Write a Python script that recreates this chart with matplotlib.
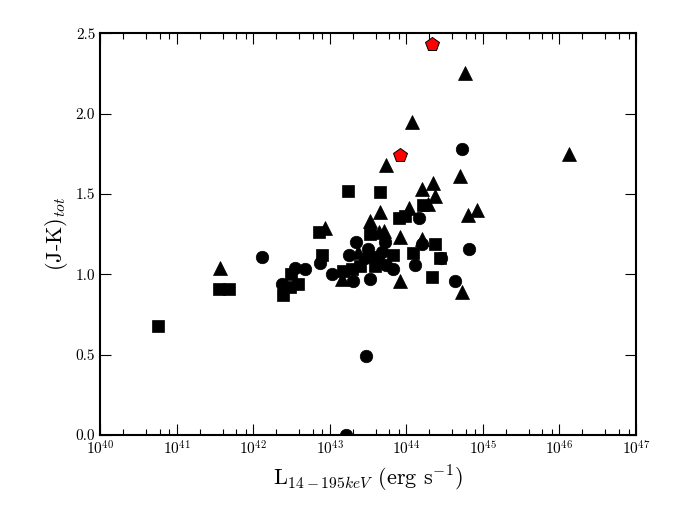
import numpy as np
import matplotlib
matplotlib.use("Agg")
import matplotlib.pyplot as plt
from matplotlib.ticker import LogLocator, MultipleLocator, NullFormatter

plt.rcParams['font.family'] = 'serif'
plt.rcParams['font.serif'] = ['cmr10', 'DejaVu Serif']
plt.rcParams['mathtext.fontset'] = 'cm'
plt.rcParams['axes.formatter.use_mathtext'] = True

# log10 of L(14-195 keV) and (J-K)tot
sq_logL = [40.76, 41.55, 41.68, 42.39, 42.50, 42.59, 42.48, 42.86, 42.90, 43.18,
           43.24, 43.29, 43.40, 43.52, 43.59, 43.63, 43.66, 43.83, 43.90, 43.98,
           44.09, 44.22, 44.33, 44.38, 44.44]
sq_jk = [0.68, 0.91, 0.91, 0.87, 1.00, 0.94, 0.92, 1.26, 1.12, 1.02,
         1.52, 1.03, 1.05, 1.25, 1.05, 1.08, 1.51, 1.12, 1.35, 1.36,
         1.13, 1.43, 0.98, 1.19, 1.10]

circ_logL = [42.12, 42.38, 42.55, 42.68, 42.87, 43.03, 43.25, 43.30, 43.35, 43.48,
             43.21, 43.53, 43.50, 43.46, 43.59, 43.68, 43.72, 43.74, 43.83, 44.16,
             44.20, 44.11, 44.46, 44.64, 44.73, 44.82]
circ_jk = [1.11, 0.94, 1.04, 1.03, 1.07, 1.00, 1.12, 0.96, 1.20, 0.49,
           0.00, 0.97, 1.16, 1.10, 1.11, 1.14, 1.20, 1.06, 1.03, 1.35,
           1.19, 1.06, 1.10, 0.96, 1.78, 1.16]

tri_logL = [41.57, 42.94, 43.16, 43.37, 43.52, 43.64, 43.66, 43.71, 43.73, 43.92,
            43.92, 44.03, 44.07, 44.20, 44.20, 44.29, 44.35, 44.38, 44.70, 44.73,
            44.77, 44.80, 44.93, 46.13]
tri_jk = [1.04, 1.29, 0.97, 1.14, 1.33, 1.26, 1.39, 1.27, 1.68, 1.23,
          0.96, 1.41, 1.95, 1.53, 1.22, 1.44, 1.57, 1.49, 1.61, 0.89,
          2.25, 1.37, 1.40, 1.75]

pent_logL = [43.92, 44.33]
pent_jk = [1.74, 2.43]

fig = plt.figure(figsize=(6.92, 5.19), dpi=100)
ax = fig.add_axes([0.1445, 0.162, 0.7745, 0.774])

ax.plot(10**np.array(sq_logL), sq_jk, 's', color='k', ms=8.5, mec='k', mew=0.5)
ax.plot(10**np.array(circ_logL), circ_jk, 'o', color='k', ms=9, mec='k', mew=0.5)
ax.plot(10**np.array(tri_logL), tri_jk, '^', color='k', ms=10, mec='k', mew=0.5)
ax.plot(10**np.array(pent_logL), pent_jk, 'p', color='red', ms=10.5, mec='k', mew=0.7)

ax.set_xscale('log')
ax.set_xlim(1e40, 1e47)
ax.set_ylim(0, 2.5)
ax.xaxis.set_major_locator(LogLocator(base=10, numticks=10))
ax.xaxis.set_minor_locator(LogLocator(base=10, subs=[2, 4, 6, 8], numticks=20))
ax.xaxis.set_minor_formatter(NullFormatter())
ax.yaxis.set_major_locator(MultipleLocator(0.5))
ax.yaxis.set_major_formatter(plt.FormatStrFormatter('%.1f'))

ax.tick_params(which='both', direction='in', top=True, right=True, labelsize=11)
ax.tick_params(which='major', length=8, width=0.8)
ax.tick_params(which='minor', length=4, width=0.8)
for s in ax.spines.values():
    s.set_linewidth(1.5)

ax.set_xlabel(r'L$_{14-195keV}$ (erg s$^{-1}$)', fontsize=16)
ax.set_ylabel(r'(J-K)$_{tot}$', fontsize=16)

fig.savefig('out.png', dpi=100)
